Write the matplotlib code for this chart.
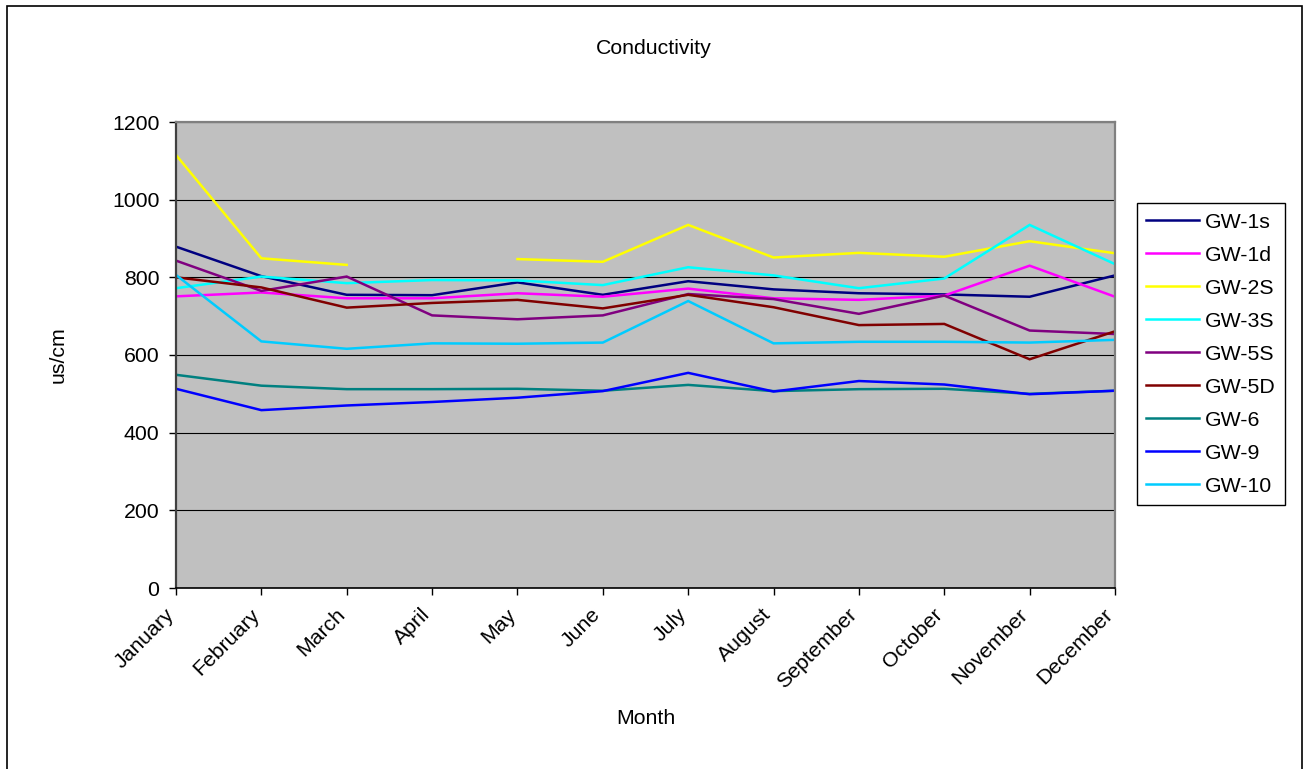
import numpy as np
import matplotlib.pyplot as plt
import matplotlib.transforms as mtransforms
from matplotlib.patches import Rectangle

plt.rcParams['font.family'] = ['Liberation Sans', 'DejaVu Sans']

months = ['January', 'February', 'March', 'April', 'May', 'June', 'July',
          'August', 'September', 'October', 'November', 'December']

# monthly conductivity per well (us/cm); GW-2S has no April reading
gw_1s = [879, 803, 755, 754, 787, 755, 790, 769, 759, 756, 750, 805]
gw_1d = [751, 761, 746, 746, 759, 750, 771, 746, 742, 753, 830, 750]
gw_2s = [1115, 849, 832, np.nan, 847, 840, 935, 851, 863, 853, 893, 862]
gw_3s = [772, 802, 785, 793, 792, 780, 826, 805, 772, 797, 935, 834]
gw_5s = [843, 765, 802, 702, 692, 702, 757, 744, 706, 753, 663, 654]
gw_5d = [800, 774, 722, 734, 742, 720, 755, 723, 677, 680, 589, 661]
gw_6 = [549, 521, 512, 512, 513, 508, 523, 507, 512, 513, 500, 508]
gw_9 = [513, 458, 470, 479, 490, 507, 554, 506, 533, 524, 499, 508]
gw_10 = [806, 635, 616, 630, 629, 632, 739, 630, 634, 634, 632, 639]

series = [('GW-1s', gw_1s, '#000080'),
          ('GW-1d', gw_1d, '#FF00FF'),
          ('GW-2S', gw_2s, '#FFFF00'),
          ('GW-3S', gw_3s, '#00FFFF'),
          ('GW-5S', gw_5s, '#800080'),
          ('GW-5D', gw_5d, '#800000'),
          ('GW-6', gw_6, '#008080'),
          ('GW-9', gw_9, '#0000FF'),
          ('GW-10', gw_10, '#00CCFF')]

fs = 15.3
fig = plt.figure(figsize=(13.04, 7.69), dpi=100)
ax = fig.add_axes([176 / 1304, 1 - 588 / 769, 939 / 1304, 466 / 769])
ax.set_facecolor('#C0C0C0')

x = np.arange(len(months))
for name, vals, col in series:
    ax.plot(x, vals, color=col, lw=1.8, label=name, solid_joinstyle='miter')

ax.set_xlim(0, len(months) - 1)
ax.set_ylim(0, 1200)
ax.set_yticks(range(0, 1201, 200))
ax.set_xticks(x)
ax.tick_params(axis='y', labelsize=fs, length=5, width=1, pad=7)
ax.tick_params(axis='x', length=5, width=1, pad=12)
ax.set_xticklabels(months, rotation=45, ha='right', va='center',
                   rotation_mode='anchor', fontsize=fs)
# nudge the slanted month names a little left of their ticks
shift = mtransforms.ScaledTranslation(-0.05, 0, fig.dpi_scale_trans)
for lbl in ax.get_xticklabels():
    lbl.set_transform(lbl.get_transform() + shift)
ax.grid(axis='y', color='black', lw=0.8)
ax.set_axisbelow(True)

for side in ('top', 'right'):
    ax.spines[side].set_color('#808080')
    ax.spines[side].set_linewidth(1.6)
ax.spines['left'].set_color('#404040')
ax.spines['left'].set_linewidth(1.6)
ax.spines['bottom'].set_color('black')
ax.spines['bottom'].set_linewidth(1.2)

ax.set_xlabel('Month', fontsize=fs, labelpad=12)
ax.set_ylabel('us/cm', fontsize=fs, labelpad=32)
fig.text(654 / 1304, 1 - 48 / 769, 'Conductivity', fontsize=fs,
         ha='center', va='center')

leg = ax.legend(loc='upper left', bbox_to_anchor=(1136.5 / 1304, 1 - 203 / 769),
                bbox_transform=fig.transFigure, fontsize=fs, frameon=True,
                fancybox=False, edgecolor='black', framealpha=1,
                handlelength=2.5, handletextpad=0.25, labelspacing=0.66,
                borderpad=0.45, borderaxespad=0)
leg.get_frame().set_linewidth(1)

# outer chart border
fig.patches.append(Rectangle((7 / 1304, -0.02), 1295 / 1304, 1.02 - 6 / 769,
                             transform=fig.transFigure, fill=False,
                             edgecolor='black', lw=1.2))

fig.savefig('out.png', dpi=100)
